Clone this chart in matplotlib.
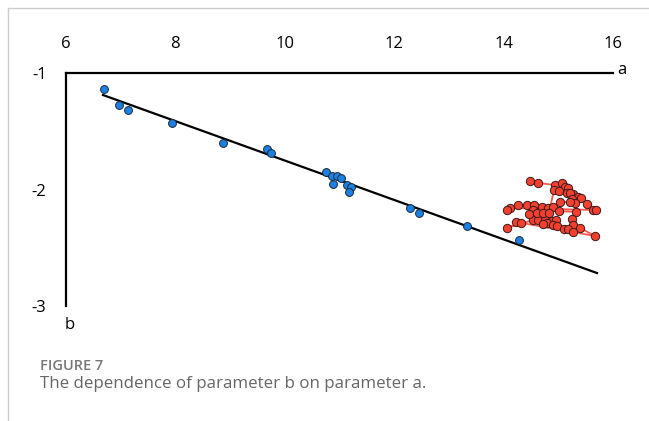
import matplotlib
matplotlib.use("Agg")
import matplotlib.pyplot as plt
import numpy as np
from matplotlib.lines import Line2D

# ---- data ----
blue_a = [6.695, 6.969, 7.133, 7.938, 8.870, 9.675, 9.748, 10.753, 10.863, 10.954,
          11.027, 10.881, 11.137, 11.210, 11.174, 12.289, 12.453, 13.331, 14.282]
blue_b = [-1.137, -1.275, -1.318, -1.429, -1.601, -1.652, -1.687, -1.850, -1.884, -1.884,
          -1.901, -1.953, -1.961, -1.979, -2.021, -2.159, -2.202, -2.313, -2.433]

red_px = [(530,181),(538,183),(555,185),(562,183),(565,187),(568,188),(573,194),(578,197),
          (581,198),(587,204),(593,210),(596,210),(510,208),(507,210),(518,205),(527,205),
          (534,205),(542,207),(548,208),(553,207),(559,211),(576,212),(572,219),(573,225),
          (580,228),(595,236),(516,222),(521,223),(507,228),(533,220),(538,220),(545,220),
          (552,221),(556,220),(547,223),(553,225),(557,226),(543,224),(564,229),(568,229),
          (573,232),(533,210),(529,214),(537,213),(543,213),(549,213),(554,190),(559,191),
          (567,193),(570,193),(572,199),(575,203),(570,202),(560,202)]
red_a = [round(6 + (p[0] - 66) / 54.7, 3) for p in red_px]
red_b = [round(-1 - (p[1] - 73) / 116.5, 3) for p in red_px]

fit_slope = -0.1692
fit_intercept = -0.0594
fit_a_range = [6.676, 15.707]

x_ticks = [6, 8, 10, 12, 14, 16]
y_ticks = [-1, -2, -3]

W, H = 649, 421
fig = plt.figure(figsize=(W / 100, H / 100), dpi=100)
fig.patch.set_facecolor("white")

# frame lines
fig.add_artist(Line2D([8 / W, 8 / W], [0, 1 - 8 / H], color="#cccccc", lw=1))
fig.add_artist(Line2D([8 / W, 1], [1 - 8 / H, 1 - 8 / H], color="#cccccc", lw=1))

ax = fig.add_axes([66 / W, 1 - 306 / H, (613 - 66) / W, (306 - 73) / H])
ax.set_xlim(6, 16)
ax.set_ylim(-3, -1)
for s in ["bottom", "right"]:
    ax.spines[s].set_visible(False)
for s in ["top", "left"]:
    ax.spines[s].set_linewidth(1.6)
    ax.spines[s].set_color("black")
ax.xaxis.tick_top()
ax.set_xticks(x_ticks)
ax.set_yticks(y_ticks)
ax.set_xticklabels([str(t) for t in x_ticks])
ax.set_yticklabels([str(t) for t in y_ticks])
ax.tick_params(axis="x", length=0, pad=15, labelsize=12, labelfontfamily="Open Sans")
ax.tick_params(axis="y", length=0, pad=14, labelsize=12, labelfontfamily="Open Sans")

fa = np.array(fit_a_range)
ax.plot(fa, fit_intercept + fit_slope * fa, color="black", lw=1.6, zorder=2)

ax.plot(red_a, red_b, color="#ff3b2f", lw=1.3, alpha=0.85, zorder=3)
ax.scatter(red_a, red_b, s=36, color="#f4402f", edgecolor="#3a1a1a", linewidth=0.7, zorder=4)
ax.scatter(blue_a, blue_b, s=32, color="#1c80e3", edgecolor="#1a2a3a", linewidth=0.7, zorder=5)

fig.text(622 / W, 1 - 70 / H, "a", ha="center", va="center", fontsize=12, family="Open Sans")
fig.text(70 / W, 1 - 325 / H, "b", ha="center", va="center", fontsize=12, family="Open Sans")

fig.text(40 / W, 1 - 366 / H, "FIGURE 7", ha="left", va="center", fontsize=10.5,
         family="Open Sans", color="#777777", fontweight="semibold")
fig.text(40 / W, 1 - 384 / H, "The dependence of parameter b on parameter a.", ha="left",
         va="center", fontsize=12.2, family="Open Sans", color="#666666")

fig.savefig("out.png", dpi=100, facecolor="white")
